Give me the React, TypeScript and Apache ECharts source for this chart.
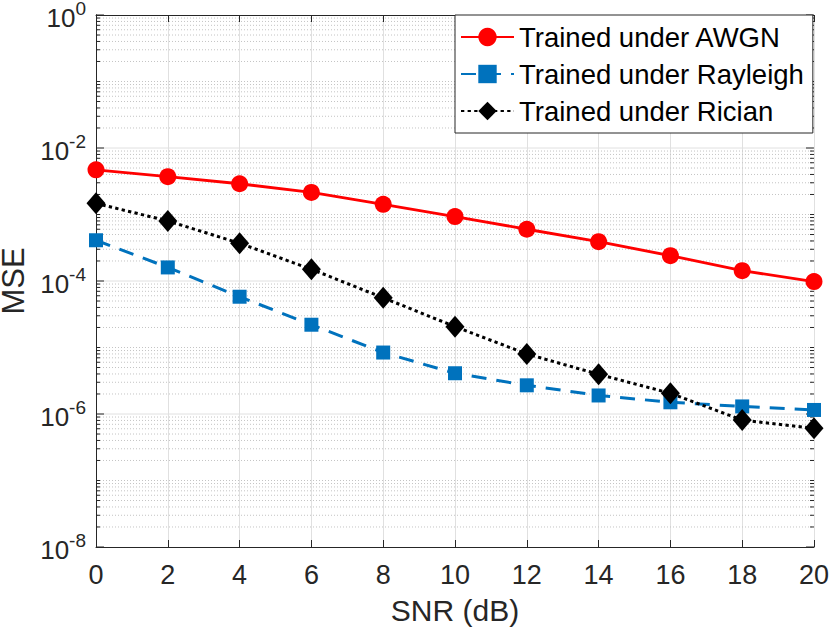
import React, { useEffect, useRef } from "react";
import * as echarts from "echarts";

const snr = [0, 2, 4, 6, 8, 10, 12, 14, 16, 18, 20];
const awgn = [4.7e-3, 3.7e-3, 2.9e-3, 2.15e-3, 1.42e-3, 9.3e-4, 6.0e-4, 3.9e-4, 2.4e-4, 1.43e-4, 9.8e-5];
const rayleigh = [4.1e-4, 1.6e-4, 5.8e-5, 2.2e-5, 8.4e-6, 4.1e-6, 2.7e-6, 1.9e-6, 1.5e-6, 1.3e-6, 1.15e-6];
const rician = [1.47e-3, 8.0e-4, 3.7e-4, 1.5e-4, 5.6e-5, 2.06e-5, 8.0e-6, 3.95e-6, 2.05e-6, 8.1e-7, 6.1e-7];
const seriesNames = ["Trained under AWGN", "Trained under Rayleigh", "Trained under Rician"];
const yMinExp = -8;
const yMaxExp = 0;
const xMin = 0;
const xMax = 20;

const AX = "#262626";
const FONT = "'Liberation Sans', Arial, Helvetica, sans-serif";

function buildYTicks(): number[][] {
  const out: number[][] = [];
  for (let k = yMinExp; k < yMaxExp; k++) {
    for (let m = 1; m <= 9; m++) {
      const major = m === 1 && k % 2 === 0 ? 1 : 0;
      out.push([xMin, m * Math.pow(10, k), major]);
    }
  }
  out.push([xMin, Math.pow(10, yMaxExp), 1]);
  return out;
}

export default function App() {
  const ref = useRef<HTMLDivElement>(null);
  useEffect(() => {
    if (!ref.current) return;
    const chart = echarts.init(ref.current, undefined, { renderer: "svg" });
    const yTicks = buildYTicks();
    const logVal = (v: number) => Math.round(Math.log10(v));
    chart.setOption({
      animation: false,
      textStyle: { fontFamily: FONT },
      grid: { left: 96, top: 15, right: 16, bottom: 85, containLabel: false, outerBoundsMode: "none" },
      legend: {
        orient: "vertical",
        left: 455,
        top: 15,
        padding: [7, 9, 7, 5],
        itemGap: 7,
        itemWidth: 53,
        itemHeight: 23,
        backgroundColor: "#ffffff",
        borderColor: AX,
        borderWidth: 1,
        borderRadius: 0,
        data: seriesNames,
        textStyle: { fontSize: 27.5, color: "#000000", fontFamily: FONT, lineHeight: 30 },
      },
      xAxis: [
        {
          type: "value",
          min: xMin,
          max: xMax,
          interval: 2,
          name: "SNR (dB)",
          nameLocation: "middle",
          nameGap: 48,
          nameTextStyle: { fontSize: 30, color: AX, fontFamily: FONT },
          axisLine: { show: true, lineStyle: { color: AX, width: 1 } },
          axisTick: { show: true, inside: true, length: 7, lineStyle: { color: AX, width: 1 } },
          axisLabel: { fontSize: 27, color: AX, margin: 14, fontFamily: FONT },
          splitLine: { show: true, lineStyle: { color: "#e0e0e0", width: 1 } },
        },
        {
          type: "value",
          position: "top",
          min: xMin,
          max: xMax,
          interval: 2,
          axisLine: { show: true, lineStyle: { color: AX, width: 1 } },
          axisTick: { show: true, inside: true, length: 7, lineStyle: { color: AX, width: 1 } },
          axisLabel: { show: false },
          splitLine: { show: false },
        },
      ],
      yAxis: [
        {
          type: "log",
          logBase: 10,
          min: Math.pow(10, yMinExp),
          max: Math.pow(10, yMaxExp),
          name: "MSE",
          nameLocation: "middle",
          nameGap: 65,
          nameTextStyle: { fontSize: 31, color: AX, fontFamily: FONT },
          axisLine: { show: true, lineStyle: { color: AX, width: 1 } },
          axisTick: { show: false },
          splitLine: { show: false },
          minorSplitLine: { show: false },
          axisLabel: {
            margin: 10,
            color: AX,
            fontFamily: FONT,
            formatter: (v: number) => {
              const e = logVal(v);
              if (e % 2 !== 0) return "";
              return `{b|10}{s|${e}}`;
            },
            rich: {
              b: { fontSize: 26, color: AX, fontFamily: FONT, verticalAlign: "bottom" },
              s: { fontSize: 19, color: AX, fontFamily: FONT, verticalAlign: "top", padding: [0, 0, 13, 0] },
            },
          },
        },
        {
          type: "log",
          logBase: 10,
          position: "right",
          min: Math.pow(10, yMinExp),
          max: Math.pow(10, yMaxExp),
          axisLine: { show: true, lineStyle: { color: AX, width: 1 } },
          axisTick: { show: false },
          axisLabel: { show: false },
          splitLine: { show: false },
        },
      ],
      series: [
        {
          type: "custom",
          name: "grid",
          xAxisIndex: 0,
          yAxisIndex: 0,
          silent: true,
          z: 1,
          clip: false,
          data: yTicks,
          renderItem: (params: any, api: any) => {
            const v = api.value(1);
            const major = api.value(2) === 1;
            const l = api.coord([xMin, v]);
            const r = api.coord([xMax, v]);
            const tl = major ? 8 : 4;
            const isEdge = Math.abs(Math.log10(v) - yMinExp) < 1e-6 || Math.abs(Math.log10(v) - yMaxExp) < 1e-6;
            const children: any[] = [];
            if (!isEdge) {
              children.push({
                type: "line",
                shape: { x1: l[0] + 1, y1: l[1], x2: r[0] - 1, y2: r[1] },
                style: major
                  ? { stroke: "#e0e0e0", lineWidth: 1 }
                  : { stroke: "#c4c4c4", lineWidth: 1, lineDash: [1, 2] },
              });
            }
            children.push({
              type: "line",
              shape: { x1: l[0], y1: l[1], x2: l[0] + tl, y2: l[1] },
              style: { stroke: AX, lineWidth: 1 },
            });
            children.push({
              type: "line",
              shape: { x1: r[0] - tl, y1: r[1], x2: r[0], y2: r[1] },
              style: { stroke: AX, lineWidth: 1 },
            });
            return { type: "group", children };
          },
        },
        {
          type: "line",
          name: seriesNames[0],
          data: snr.map((x, i) => [x, awgn[i]]),
          symbol: "circle",
          symbolSize: 17,
          color: "#ff0000",
          lineStyle: { color: "#ff0000", width: 2.8 },
          itemStyle: { color: "#ff0000" },
          z: 3,
        },
        {
          type: "line",
          name: seriesNames[1],
          data: snr.map((x, i) => [x, rayleigh[i]]),
          symbol: "rect",
          symbolSize: 14,
          color: "#0072bd",
          lineStyle: { color: "#0072bd", width: 3, type: [15, 10] },
          itemStyle: { color: "#0072bd" },
          z: 3,
        },
        {
          type: "line",
          name: seriesNames[2],
          data: snr.map((x, i) => [x, rician[i]]),
          symbol: "diamond",
          symbolSize: [19, 22],
          color: "#000000",
          lineStyle: { color: "#000000", width: 3, type: [3.3, 3.3] },
          itemStyle: { color: "#000000" },
          z: 3,
        },
      ],
    });
    return () => chart.dispose();
  }, []);
  return (
    <div
      ref={ref}
      style={{ position: "absolute", left: 0, top: 0, width: 830, height: 632, background: "#ffffff" }}
    />
  );
}
